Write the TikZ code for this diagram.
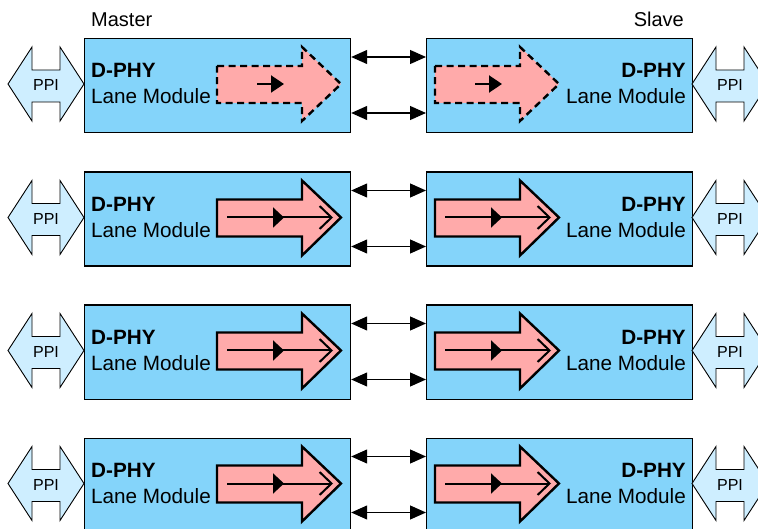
\documentclass[tikz,border=0pt]{standalone}
\usepackage{fontspec}
\setmainfont{Liberation Sans}
\usetikzlibrary{arrows.meta}
\definecolor{boxblue}{RGB}{132,212,250}
\definecolor{ppiblue}{RGB}{206,238,255}
\definecolor{pinkfill}{RGB}{255,170,170}
\begin{document}
\begin{tikzpicture}[x=1pt,y=-1pt,
  lanebox/.style={draw=black, line width=1.2pt, fill=boxblue, minimum width=266pt, minimum height=94pt, inner sep=0pt, anchor=north west},
  titletext/.style={inner sep=0pt, font=\fontsize{20}{24}\selectfont},
  bigtext/.style={inner sep=0pt, font=\fontsize{20.7}{24}\selectfont},
  boldtext/.style={inner sep=0pt, font=\fontsize{20.7}{24}\selectfont\bfseries},
  ppitext/.style={inner sep=0pt, font=\fontsize{16}{19}\selectfont},
  ppishape/.style={draw=black, line width=0.9pt, fill=ppiblue, line join=miter},
  pinkarr/.style={draw=black, line width=2.4pt, fill=pinkfill, line join=miter},
  dashedarr/.style={pinkarr, dash pattern=on 7pt off 4.5pt},
  conn/.style={line width=1.2pt, {Triangle[length=16pt,width=14pt]}-{Triangle[length=16pt,width=14pt]}},
  innerline/.style={line width=2pt}
]
\useasboundingbox (0,0) rectangle (758,529);
\clip (0,0) rectangle (758,529);

\node[titletext, anchor=base west] (master) at (91,27) {Master};
\node[titletext, anchor=base east] (slave) at (684,27) {Slave};

\foreach \r/\T in {1/38,2/171.5,3/304.5,4/437.5} {
  % lane boxes
  \node[lanebox] (m\r) at (84,\T) {};
  \node[lanebox] (s\r) at (426,\T) {};
  % PPI double arrows
  \draw[ppishape] (8,\T+46) -- (32,\T+9) -- (32,\T+32) -- (60,\T+32) -- (60,\T+9) -- (84,\T+46)
     -- (60,\T+83) -- (60,\T+64) -- (32,\T+64) -- (32,\T+83) -- cycle;
  \node[ppitext] (pl\r) at (46,\T+47) {PPI};
  \draw[ppishape] (692,\T+46) -- (716,\T+9) -- (716,\T+32) -- (744,\T+32) -- (744,\T+9) -- (768,\T+46)
     -- (744,\T+83) -- (744,\T+64) -- (716,\T+64) -- (716,\T+83) -- cycle;
  \node[ppitext] (pr\r) at (730,\T+47) {PPI};
  % connectors
  \draw[conn] ([yshift=-19pt]m\r.north east) -- ([yshift=-19pt]s\r.north west);
  \draw[conn] ([yshift=-75pt]m\r.north east) -- ([yshift=-75pt]s\r.north west);
}

% pink arrows: row 1 dashed
\draw[dashedarr] (217,38+28) -- (302,38+28) -- (302,38+9) -- (341,38+46) -- (302,38+83) -- (302,38+65) -- (217,38+65) -- cycle;
\draw[dashedarr] (435,38+28) -- (520,38+28) -- (520,38+9) -- (559,38+46) -- (520,38+83) -- (520,38+65) -- (435,38+65) -- cycle;
\draw[innerline, -{Triangle[length=13pt,width=17pt]}] (257,38+46) -- (284,38+46);
\draw[innerline, -{Triangle[length=13pt,width=17pt]}] (475,38+46) -- (502,38+46);

\foreach \T in {171.5,304.5,437.5} {
  \draw[pinkarr] (217,\T+28) -- (302,\T+28) -- (302,\T+9) -- (341,\T+46) -- (302,\T+84) -- (302,\T+65) -- (217,\T+65) -- cycle;
  \draw[pinkarr] (435,\T+28) -- (520,\T+28) -- (520,\T+9) -- (559,\T+46) -- (520,\T+84) -- (520,\T+65) -- (435,\T+65) -- cycle;
  \draw[innerline, -{Triangle[length=11pt,width=20pt]}] (227,\T+46) -- (284,\T+46);
  \draw[innerline, -{Straight Barb[length=12pt,width=23pt]}] (282,\T+46) -- (333,\T+46);
  \draw[innerline, -{Triangle[length=11pt,width=20pt]}] (445,\T+46) -- (502,\T+46);
  \draw[innerline, -{Straight Barb[length=12pt,width=23pt]}] (500,\T+46) -- (551,\T+46);
}

% labels
\foreach \r/\T in {1/38,2/171.5,3/304.5,4/437.5} {
  \node[boldtext, anchor=base west] (mh\r) at (91,\T+40) {D-PHY};
  \node[bigtext, anchor=base west] (ml\r) at (91,\T+66) {Lane Module};
  \node[boldtext, anchor=base east] (sh\r) at (686,\T+40) {D-PHY};
  \node[bigtext, anchor=base east] (sl\r) at (686,\T+66) {Lane Module};
}
\end{tikzpicture}
\end{document}
